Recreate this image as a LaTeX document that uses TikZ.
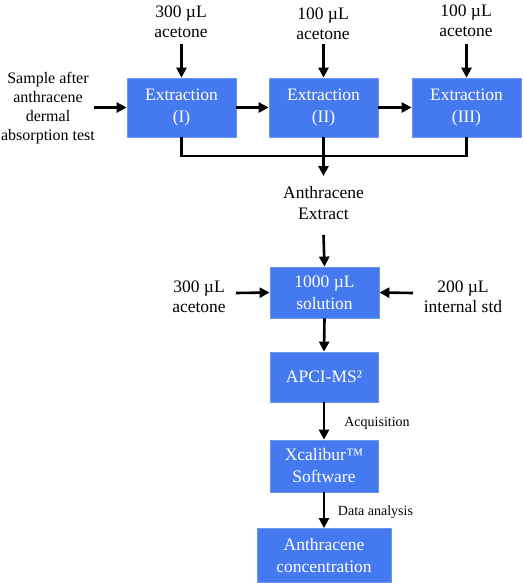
\documentclass[tikz,border=0pt]{standalone}
\usepackage{fontspec}
\setmainfont{Liberation Serif}
\usetikzlibrary{arrows.meta}
\definecolor{boxfill}{HTML}{4479F0}
\definecolor{boxline}{HTML}{6C98F2}
\begin{document}
\begin{tikzpicture}[x=1pt,y=-1pt,
  box/.style={draw=boxline,line width=0.8pt,fill=boxfill,text=white,align=center,inner sep=0pt,
    font=\fontsize{17.5}{22}\selectfont},
  lbl/.style={align=center,inner sep=0pt,font=\fontsize{17.5}{20.5}\selectfont},
  small/.style={align=center,inner sep=0pt,font=\fontsize{14}{16}\selectfont},
  arr/.style={line width=2.6pt,-{Triangle[length=10pt,width=10pt]}},
  ln/.style={line width=2.6pt}]
\useasboundingbox (0,0) rectangle (524,583);
% top row
\node[box,minimum width=109pt,minimum height=59pt] (e1) at (181.5,107.5) {Extraction\\(I)};
\node[box,minimum width=109pt,minimum height=59pt] (e2) at (323.5,107.5) {Extraction\\(II)};
\node[box,minimum width=109pt,minimum height=59pt] (e3) at (466.5,107.5) {Extraction\\(III)};
\node[lbl] (a1) at (181,22) {300 µL\\acetone};
\node[lbl] (a2) at (323,24) {100 µL\\acetone};
\node[lbl] (a3) at (466,21) {100 µL\\acetone};
\coordinate (t1) at (181.5,44);
\coordinate (t2) at (323.5,44);
\coordinate (t3) at (466.5,44);
\draw[arr] (t1) -- (e1.north);
\draw[arr] (t2) -- (e2.north);
\draw[arr] (t3) -- (e3.north);
\node[align=center,inner sep=0pt,font=\fontsize{16}{19}\selectfont] (smp) at (48,108) {Sample after\\anthracene\\dermal\\absorption test};
\coordinate (s0) at (94,107.5);
\draw[arr] (s0) -- (e1.west);
\draw[arr] (e1.east) -- (e2.west);
\draw[arr] (e2.east) -- (e3.west);
\coordinate (j) at (323.5,156);
\draw[ln] (e1.south) |- (j) -| (e3.south);
\coordinate (ae) at (323.5,176);
\draw[arr] (e2.south) -- (ae);
\node[lbl] (ext) at (323.5,203) {Anthracene\\Extract};
% solution
\node[box,minimum width=109pt,minimum height=51pt] (sol) at (324.5,292.5) {1000 µL\\solution};
\coordinate (ae2) at (323.5,235);
\draw[arr] (ae2) -- (sol.north);
\node[lbl] (ac2) at (199,297) {300 µL\\acetone};
\node[lbl] (std) at (463,297) {200 µL\\internal std};
\coordinate (l0) at (236,293);
\coordinate (r0) at (413,293);
\draw[arr] (l0) -- (sol.west);
\draw[arr] (r0) -- (sol.east);
% lower chain
\node[box,minimum width=108pt,minimum height=50pt] (apci) at (324,377) {APCI-MS²};
\node[box,minimum width=108pt,minimum height=52pt] (xcal) at (324,466) {Xcalibur™\\Software};
\node[box,minimum width=134pt,minimum height=54pt] (conc) at (324,555.5) {Anthracene\\concentration};
\draw[arr] (sol.south) -- (apci.north);
\draw[arr] (apci.south) -- (xcal.north);
\draw[arr] (xcal.south) -- (conc.north);
\node[small] (acq) at (377,423) {Acquisition};
\node[small] (da) at (375.5,512) {Data analysis};
\end{tikzpicture}
\end{document}
